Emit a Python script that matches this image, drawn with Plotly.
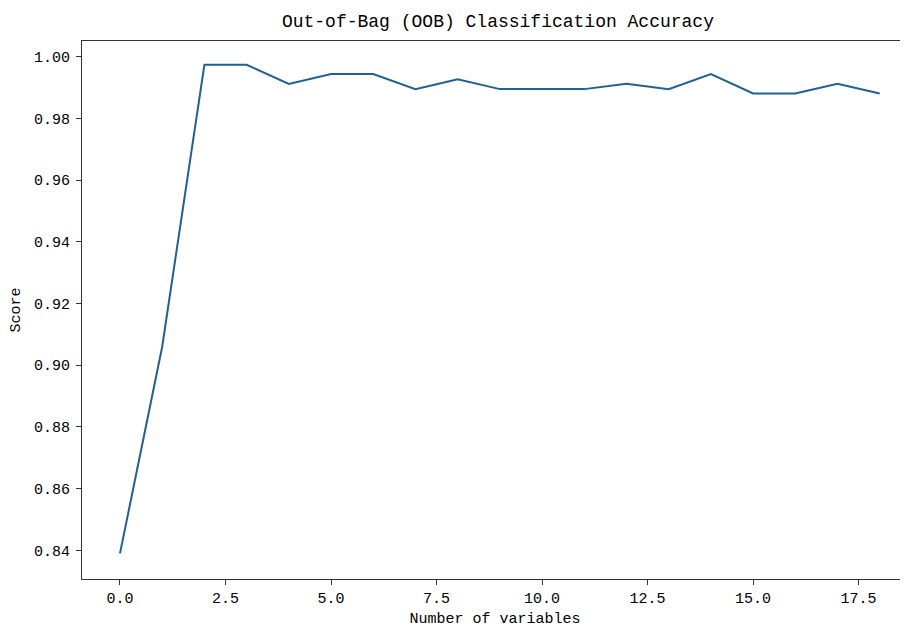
import plotly.graph_objects as go

n_vars = list(range(19))
oob_score = [0.839, 0.906, 0.9974, 0.9974, 0.9912, 0.9944, 0.9944, 0.9895, 0.9927,
             0.9895, 0.9895, 0.9895, 0.9912, 0.9895, 0.9944, 0.9881, 0.9881, 0.9912, 0.9881]
x_ticks = [0, 2.5, 5, 7.5, 10, 12.5, 15, 17.5]
x_tick_text = ["0.0", "2.5", "5.0", "7.5", "10.0", "12.5", "15.0", "17.5"]
y_ticks = [0.84, 0.86, 0.88, 0.90, 0.92, 0.94, 0.96, 0.98, 1.00]
y_tick_text = ["0.84", "0.86", "0.88", "0.90", "0.92", "0.94", "0.96", "0.98", "1.00"]

FONT = "Liberation Mono"

fig = go.Figure()
fig.add_trace(go.Scatter(x=n_vars, y=oob_score, mode="lines",
                         line=dict(color="#1f6096", width=2), showlegend=False))

# page body has an 8px default margin, so the figure is sized 900x620
fig.update_layout(
    width=900, height=620,
    margin=dict(l=74, r=0, t=33, b=49),
    paper_bgcolor="white", plot_bgcolor="white",
    font=dict(family=FONT, size=15, color="black"),
    title=dict(text="Out-of-Bag (OOB) Classification Accuracy", x=0.5444, xanchor="center",
               y=1 - 13/620, yanchor="middle", font=dict(family=FONT, size=18, color="black")),
    xaxis=dict(range=[-0.9, 18.67], tickvals=x_ticks, ticktext=x_tick_text, automargin=False,
               showline=True, linecolor="#333333", linewidth=1.2, mirror=True,
               ticks="outside", ticklen=5, tickcolor="#333333", showgrid=False, zeroline=False,
               title=dict(text="Number of variables", standoff=6, font=dict(family=FONT, size=15)),
               tickfont=dict(family=FONT, size=15)),
    yaxis=dict(range=[0.8307, 1.0051], tickvals=y_ticks, ticktext=y_tick_text, automargin=False,
               showline=True, linecolor="#333333", linewidth=1.2, mirror=False,
               ticks="outside", ticklen=5, tickcolor="#333333", showgrid=False, zeroline=False,
               ticklabelstandoff=3,
               title=dict(text="Score", standoff=11, font=dict(family=FONT, size=15)),
               tickfont=dict(family=FONT, size=15)),
)

fig.write_html("out.html")
